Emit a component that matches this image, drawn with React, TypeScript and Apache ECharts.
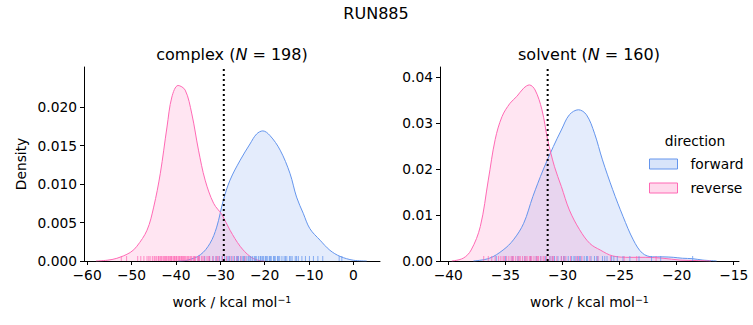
import React, { useEffect, useRef } from "react";
import * as echarts from "echarts";

const FONT = "DejaVu Sans";
const FS = 13.8;
const BLUE = "#6495ED";
const PINK = "#FF69B4";
const BLUE_FILL = "rgba(100,149,237,0.25)";
const PINK_FILL = "rgba(255,105,180,0.25)";

// KDE curves: [work, density]
const complexReverseKde: number[][] = [
  [-58, 0], [-55.5, 0.0001], [-53.3, 0.00035], [-50.3, 0.0011], [-48.8, 0.0019], [-46.5, 0.004],
  [-45, 0.007], [-43.5, 0.0114], [-42, 0.0174], [-40.9, 0.0213], [-39.5, 0.0228],
  [-37.9, 0.0222], [-36.4, 0.0191], [-34.9, 0.0144], [-33.4, 0.0105], [-31.5, 0.0075],
  [-29.6, 0.006], [-27.8, 0.004], [-25.5, 0.0019], [-23.3, 0.0006], [-21.5, 0.0001], [-20, 0],
];
const complexForwardKde: number[][] = [
  [-39.5, 0], [-37.5, 0.0001], [-34.5, 0.0008], [-32.3, 0.0023], [-30.8, 0.0044], [-29.3, 0.0079],
  [-27.8, 0.0105], [-25.5, 0.0131], [-23.3, 0.0152], [-21.8, 0.0165], [-20.4, 0.0169],
  [-18.8, 0.0163], [-16.5, 0.0144], [-14.3, 0.0114], [-12.8, 0.0083], [-11.3, 0.0062],
  [-9.8, 0.0042], [-7.5, 0.0027], [-5.3, 0.0014], [-3, 0.0006], [0, 0.0001], [3, 0],
];
const solventReverseKde: number[][] = [
  [-39.7, 0], [-38.7, 0.0006], [-38.0, 0.0024], [-37.2, 0.0075], [-36.5, 0.0176], [-35.9, 0.0264],
  [-35.3, 0.0314], [-34.6, 0.0343], [-34.0, 0.0358], [-33.4, 0.0376], [-32.9, 0.0383],
  [-32.4, 0.0372], [-31.8, 0.0329], [-31.3, 0.0264], [-30.7, 0.0205], [-30.1, 0.0162],
  [-29.4, 0.0111], [-28.5, 0.0068], [-27.6, 0.0038], [-26.7, 0.0024], [-25.6, 0.0011],
  [-24.1, 0.0008], [-22.7, 0.0008], [-21.2, 0.0006], [-19.7, 0.0002], [-18.3, 0.0001], [-17, 0],
];
const solventForwardKde: number[][] = [
  [-37.8, 0], [-36.4, 0.0006], [-35.2, 0.0024], [-34.3, 0.0046], [-33.4, 0.0082], [-32.6, 0.014],
  [-31.7, 0.0198], [-30.8, 0.0249], [-30.1, 0.0285], [-29.4, 0.0318], [-28.6, 0.0329],
  [-27.9, 0.0318], [-27.2, 0.0278], [-26.5, 0.022], [-25.6, 0.0155], [-24.7, 0.0097],
  [-23.8, 0.0046], [-23.0, 0.0017], [-22.1, 0.0009], [-21.2, 0.0009], [-20.3, 0.0008],
  [-19.5, 0.0006], [-18.6, 0.0005], [-17.7, 0.0002], [-16.5, 0],
];

// Rug samples (work values)
const complexReverseRug = [
  -52.3, -51.1, -48.6, -47.9, -47.2, -46.5, -45.8, -45.3, -44.9, -44.4, -44.0, -43.6, -43.2, -42.9,
  -42.5, -42.1, -41.8, -41.5, -41.2, -40.9, -40.6, -40.3, -40.0, -39.8, -39.5, -39.2, -38.9, -38.7,
  -38.4, -38.1, -37.8, -37.5, -37.1, -36.8, -36.4, -36.0, -35.6, -35.1, -34.7, -34.2, -33.6, -33.0,
  -32.4, -31.7, -31.0, -30.3, -29.5, -28.6, -27.8, -27.1, -26.2, -25.3, -24.4,
  -46.1, -44.7, -43.9, -43.4, -42.7, -42.3, -41.6, -41.0, -40.4, -39.9, -39.3, -38.6, -38.2, -37.3,
  -36.6, -35.8, -34.9, -33.9, -32.7, -30.6,
];
const complexForwardRug = [
  -34.8, -33.5, -32.4, -31.6, -30.9, -30.2, -29.6, -29.0, -28.5, -27.9, -27.4, -26.8, -26.3, -25.9,
  -25.4, -24.9, -24.5, -24.0, -23.6, -23.1, -22.7, -22.3, -21.9, -21.4, -21.0, -20.6, -20.2, -19.8,
  -19.3, -18.9, -18.5, -18.0, -17.6, -17.1, -16.6, -16.1, -15.6, -15.0, -14.4, -13.8, -13.1, -12.4,
  -11.6, -10.8, -9.9, -9.0, -8.0, -6.9, -3.2, -2.6,
  -28.2, -26.1, -24.7, -23.3, -22.0, -20.9, -20.4, -19.6, -18.7, -17.8, -16.9, -15.3, -14.1, -12.8,
];
const solventReverseRug = [
  -36.9, -36.5, -36.2, -35.9, -35.6, -35.4, -35.1, -34.9, -34.7, -34.5, -34.3, -34.1, -33.9, -33.7,
  -33.5, -33.3, -33.1, -32.9, -32.7, -32.5, -32.3, -32.1, -31.9, -31.7, -31.4, -31.1, -30.8, -30.5,
  -30.1, -29.7, -29.3, -28.8, -28.3, -27.6, -26.9, -25.8, -24.6, -23.5, -21.8,
  -35.2, -34.4, -33.8, -33.2, -32.8, -32.2, -31.6, -30.9, -29.9, -28.6,
];
const solventForwardRug = [
  -35.8, -35.0, -34.4, -33.9, -33.3, -32.8, -32.3, -31.9, -31.5, -31.1, -30.7, -30.4, -30.1, -29.8,
  -29.5, -29.2, -28.9, -28.7, -28.4, -28.1, -27.8, -27.5, -27.2, -26.9, -26.5, -26.1, -25.7, -25.2,
  -24.7, -24.1, -23.3, -22.2, -21.4, -18.6,
  -30.9, -29.9, -29.0, -28.5, -27.9, -27.0, -26.3, -25.5,
];

// Vertical dotted markers
const complexMarker = -29.2;
const solventMarker = -31.3;

// Axes
const complexXRange = [-60.7, 6.0];
const solventXRange = [-40.73, -14.54];
const complexYMax = 0.0252;
const solventYMax = 0.0422;
const complexXTicks = [-60, -50, -40, -30, -20, -10, 0];
const solventXTicks = [-40, -35, -30, -25, -20, -15];
const complexYTicks = [0, 0.005, 0.01, 0.015, 0.02];
const solventYTicks = [0, 0.01, 0.02, 0.03, 0.04];

const minus = (v: number) => (v < 0 ? "\u2212" + Math.abs(v) : String(v));

function xAxis(gridIndex: number, range: number[], ticks: number[]) {
  return {
    type: "value",
    gridIndex,
    min: range[0],
    max: range[1],
    name: "work / kcal mol{sup|\u22121}",
    nameLocation: "middle",
    nameGap: 33,
    nameTextStyle: {
      fontFamily: FONT,
      fontSize: FS,
      color: "#000",
      rich: { sup: { fontFamily: FONT, fontSize: 9.5, color: "#000", verticalAlign: "top", padding: [0, 0, 6, 0] } },
    },
    axisLine: { show: true, onZero: false, lineStyle: { color: "#000", width: 1 } },
    axisTick: { show: true, length: 4, customValues: ticks, lineStyle: { color: "#000", width: 1 } },
    axisLabel: { customValues: ticks, formatter: minus, color: "#000", fontFamily: FONT, fontSize: FS, margin: 7 },
    splitLine: { show: false },
  };
}

function yAxis(gridIndex: number, max: number, ticks: number[], digits: number, name: string) {
  return {
    type: "value",
    gridIndex,
    min: 0,
    max,
    name,
    nameLocation: "middle",
    nameGap: 56,
    nameTextStyle: { fontFamily: FONT, fontSize: FS, color: "#000" },
    axisLine: { show: true, onZero: false, lineStyle: { color: "#000", width: 1 } },
    axisTick: { show: true, length: 4, customValues: ticks, lineStyle: { color: "#000", width: 1 } },
    axisLabel: {
      customValues: ticks,
      formatter: (v: number) => v.toFixed(digits),
      color: "#000",
      fontFamily: FONT,
      fontSize: FS,
      margin: 7,
    },
    splitLine: { show: false },
  };
}

function kde(name: string, idx: number, data: number[][], color: string, fill: string) {
  return {
    name,
    type: "line",
    xAxisIndex: idx,
    yAxisIndex: idx,
    data,
    smooth: 0.35,
    symbol: "none",
    lineStyle: { color, width: 1 },
    itemStyle: { color },
    areaStyle: { color: fill },
    z: 2,
  };
}

function rug(idx: number, values: number[], color: string) {
  return {
    type: "scatter",
    xAxisIndex: idx,
    yAxisIndex: idx,
    data: values.map((v) => [v, 0]),
    symbol: "rect",
    symbolSize: [1, 5],
    symbolOffset: [0, "-50%"],
    itemStyle: { color, opacity: 0.75 },
    silent: true,
    clip: false,
    z: 3,
  };
}

function marker(idx: number, x: number, ymax: number) {
  return {
    type: "line",
    xAxisIndex: idx,
    yAxisIndex: idx,
    data: [[x, 0], [x, ymax]],
    symbol: "none",
    lineStyle: { color: "#000", width: 2, type: [2, 3] },
    silent: true,
    z: 4,
  };
}

export default function App() {
  const ref = useRef<HTMLDivElement>(null);
  useEffect(() => {
    if (!ref.current) return;
    const chart = echarts.init(ref.current, undefined, { renderer: "svg" });
    chart.setOption({
      animation: false,
      backgroundColor: "#fff",
      textStyle: { fontFamily: FONT },
      grid: [
        { left: 84, top: 67, width: 296, height: 194 },
        { left: 440, top: 67, width: 299, height: 194 },
      ],
      xAxis: [xAxis(0, complexXRange, complexXTicks), xAxis(1, solventXRange, solventXTicks)],
      yAxis: [
        yAxis(0, complexYMax, complexYTicks, 3, "Density"),
        yAxis(1, solventYMax, solventYTicks, 2, ""),
      ],
      legend: {
        orient: "vertical",
        left: 649,
        top: 157,
        padding: 0,
        itemWidth: 28,
        itemHeight: 10,
        itemGap: 10,
        icon: "rect",
        textStyle: { fontFamily: FONT, fontSize: FS, color: "#000", padding: [0, 0, 0, 8] },
        lineStyle: { opacity: 0, width: 0 },
        selectedMode: false,
        data: [
          { name: "forward", icon: "rect", itemStyle: { color: BLUE_FILL, borderColor: BLUE, borderWidth: 1 } },
          { name: "reverse", icon: "rect", itemStyle: { color: PINK_FILL, borderColor: PINK, borderWidth: 1 } },
        ],
      },
      graphic: [
        { type: "text", x: 376, y: 13, style: { text: "RUN885", fontFamily: FONT, fontSize: 16, fill: "#000", align: "center", verticalAlign: "middle" } },
        {
          type: "text", x: 232, y: 54,
          style: {
            text: "complex ({i|N} = 198)", fontFamily: FONT, fontSize: 16, fill: "#000", align: "center", verticalAlign: "middle",
            rich: { i: { fontFamily: FONT, fontSize: 16, fontStyle: "italic", fill: "#000" } },
          },
        },
        {
          type: "text", x: 589, y: 54,
          style: {
            text: "solvent ({i|N} = 160)", fontFamily: FONT, fontSize: 16, fill: "#000", align: "center", verticalAlign: "middle",
            rich: { i: { fontFamily: FONT, fontSize: 16, fontStyle: "italic", fill: "#000" } },
          },
        },
        { type: "text", x: 695, y: 141, style: { text: "direction", fontFamily: FONT, fontSize: FS, fill: "#000", align: "center", verticalAlign: "middle" } },
      ],
      series: [
        kde("forward", 0, complexForwardKde, BLUE, BLUE_FILL),
        kde("reverse", 0, complexReverseKde, PINK, PINK_FILL),
        kde("forward", 1, solventForwardKde, BLUE, BLUE_FILL),
        kde("reverse", 1, solventReverseKde, PINK, PINK_FILL),
        rug(0, complexForwardRug, BLUE),
        rug(0, complexReverseRug, PINK),
        rug(1, solventForwardRug, BLUE),
        rug(1, solventReverseRug, PINK),
        marker(0, complexMarker, complexYMax),
        marker(1, solventMarker, solventYMax),
      ],
    });
    return () => chart.dispose();
  }, []);
  return <div ref={ref} style={{ position: "fixed", left: 0, top: 0, width: 753, height: 325 }} />;
}
